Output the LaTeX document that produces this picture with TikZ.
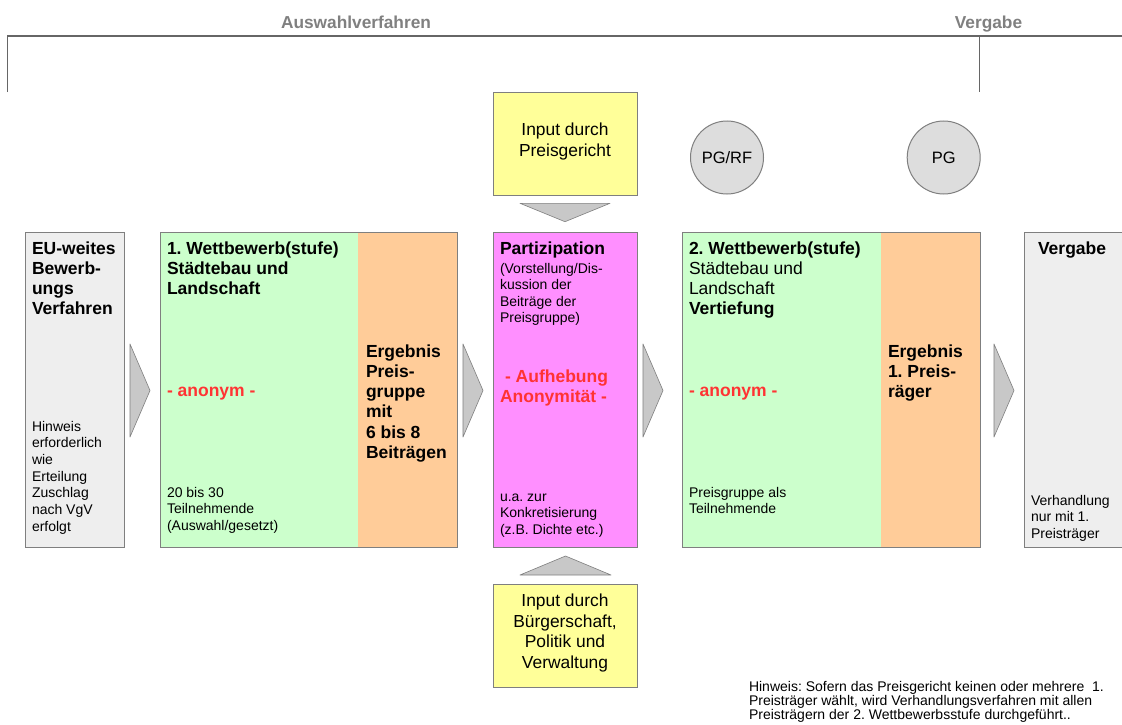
\documentclass[tikz,border=0pt]{standalone}
\usepackage{fontspec}
\setmainfont{Liberation Sans}
\frenchspacing
\definecolor{bordergray}{HTML}{7F7F7F}
\definecolor{linegray}{HTML}{666666}
\definecolor{labelgray}{HTML}{808080}
\definecolor{boxgray}{HTML}{EEEEEE}
\definecolor{boxgreen}{HTML}{CCFFCC}
\definecolor{boxorange}{HTML}{FFCC99}
\definecolor{boxmagenta}{HTML}{FF8FFF}
\definecolor{boxyellow}{HTML}{FFFF99}
\definecolor{circgray}{HTML}{DDDDDD}
\definecolor{trigray}{HTML}{C8C8C8}
\definecolor{redtext}{HTML}{FF3333}
\begin{document}
\begin{tikzpicture}[x=1pt,y=-1pt,
  fillbox/.style={draw=none,inner sep=0,outer sep=0,anchor=north west,minimum height=315},
  frame/.style={draw=bordergray,line width=1pt},
  txt/.style={inner sep=0,outer sep=0,anchor=base west,align=left},
  headtxt/.style={txt,font=\fontsize{17.5}{20.3}\selectfont\bfseries},
  regtxt/.style={txt,font=\fontsize{17.5}{20.3}\selectfont},
  smalltxt/.style={txt,font=\fontsize{14}{16.7}\selectfont},
  redtxt/.style={headtxt,text=redtext},
  toplabel/.style={inner sep=0,anchor=base,font=\fontsize{17.3}{20}\selectfont\bfseries,text=labelgray},
  bracket/.style={draw=linegray,line width=1.5pt},
  tri/.style={fill=trigray,draw=bordergray,line width=0.6pt,line join=round},
  inputbox/.style={draw=bordergray,line width=1pt,fill=boxyellow,inner sep=0,anchor=north west,minimum width=144,minimum height=103},
  inputtxt/.style={inner sep=0,anchor=base,align=center,font=\fontsize{17.4}{20.6}\selectfont},
  circ/.style={circle,draw=bordergray,line width=1pt,fill=circgray,minimum size=73,inner sep=0,font=\fontsize{16.5}{19}\selectfont}
]
\clip (0,0) rectangle (1122,725);
\fill[white] (0,0) rectangle (1122,725);

% top bracket
\node[toplabel] (aw) at (356,28.5) {Auswahlverfahren};
\node[toplabel] (vg) at (988.5,28.5) {Vergabe};
\coordinate (bl) at (7.3,92);
\coordinate (btl) at (7.3,36);
\coordinate (btr) at (1130,36);
\coordinate (bmt) at (979.3,36);
\coordinate (bmb) at (979.3,92);
\draw[bracket] (bl) -- (btl) -- (btr);
\draw[bracket] (bmt) -- (bmb);

% main boxes
\node[fillbox,fill=boxgray,minimum width=99] (eu) at (25,232) {};
\draw[frame] (eu.north west) rectangle (eu.south east);

\node[fillbox,fill=boxgreen,minimum width=198] (wb1) at (160,232) {};
\node[fillbox,fill=boxorange,minimum width=99] (erg1) at (358,232) {};
\draw[frame] (wb1.north west) rectangle (erg1.south east);

\node[fillbox,fill=boxmagenta,minimum width=144] (part) at (493,232) {};
\draw[frame] (part.north west) rectangle (part.south east);

\node[fillbox,fill=boxgreen,minimum width=199] (wb2) at (682,232) {};
\node[fillbox,fill=boxorange,minimum width=99] (erg2) at (881,232) {};
\draw[frame] (wb2.north west) rectangle (erg2.south east);

\node[fillbox,fill=boxgray,minimum width=130] (verg) at (1024,232) {};
\draw[frame] (verg.north west) rectangle (verg.south east);

% input boxes (texts: base = last line)
\node[inputbox] (inpg) at (493,92) {};
\node[inputtxt] (inpgt) at (565,156.1) {Input durch\\Preisgericht};
\node[inputbox] (inb) at (493,584) {};
\node[inputtxt] (inbt) at (565,668.5) {Input durch\\Bürgerschaft,\\Politik und\\Verwaltung};

% circles
\node[circ] (pgrf) at (727,157.5) {PG/RF};
\node[circ] (pg) at (943.7,157.5) {PG};

% triangles
\draw[tri] (130,344) -- (150,390.5) -- (130,437) -- cycle;
\draw[tri] (463,344) -- (483,390.5) -- (463,437) -- cycle;
\draw[tri] (643,344) -- (663,390.5) -- (643,437) -- cycle;
\draw[tri] (994,344) -- (1014,390.5) -- (994,437) -- cycle;
\draw[tri] (520,203.3) -- (610,203.3) -- (565,221.7) -- cycle;
\draw[tri] (520,575) -- (611,575) -- (565.5,556) -- cycle;

% texts (anchor base west = baseline of the last line)
\node[headtxt] (euh) at (32,314.9) {EU-weites\\Bewerb-\\ungs\\Verfahren};
\node[smalltxt] (eus) at (32,531.2) {Hinweis\\erforderlich\\wie\\Erteilung\\Zuschlag\\nach VgV\\erfolgt};

\node[headtxt] (wb1h) at (167,294.6) {1. Wettbewerb(stufe)\\Städtebau und\\Landschaft};
\node[redtxt] (wb1a) at (167,396.5) {- anonym -};
\node[smalltxt] (wb1s) at (167,530.4) {20 bis 30\\Teilnehmende\\(Auswahl/gesetzt)};

\node[headtxt] (erg1h) at (366,458.5) {Ergebnis\\Preis-\\gruppe\\mit\\6 bis 8\\Beiträgen};

\node[headtxt] (parth) at (500,254) {Partizipation};
\node[smalltxt,font=\fontsize{14}{16.3}\selectfont] (partp) at (500,322.4) {(Vorstellung/Dis-\\kussion der\\Beiträge der\\Preisgruppe)};
\node[redtxt] (partr) at (500,402.3) {\hspace*{5pt}- Aufhebung\\Anonymität -};
\node[smalltxt] (parts) at (500,534.4) {u.a. zur\\Konkretisierung\\(z.B. Dichte etc.)};

\node[regtxt] (wb2h) at (689,314.9) {\textbf{2. Wettbewerb(stufe)}\\Städtebau und\\Landschaft\\\textbf{Vertiefung}};
\node[redtxt] (wb2a) at (689,396.5) {- anonym -};
\node[smalltxt] (wb2s) at (689,513.7) {Preisgruppe als\\Teilnehmende};

\node[headtxt] (erg2h) at (888,397.6) {Ergebnis\\1. Preis-\\räger};

\node[headtxt] (vergh) at (1038,254) {Vergabe};
\node[smalltxt] (vergs) at (1031,538.4) {Verhandlung\\nur mit 1.\\Preisträger};

% note
\node[txt,font=\fontsize{14}{14}\selectfont] (note) at (749,719.5) {Hinweis: Sofern das Preisgericht keinen oder mehrere\ \ 1.\\Preisträger wählt, wird Verhandlungsverfahren mit allen\\Preisträgern der 2. Wettbewerbsstufe durchgeführt..};
\end{tikzpicture}
\end{document}
